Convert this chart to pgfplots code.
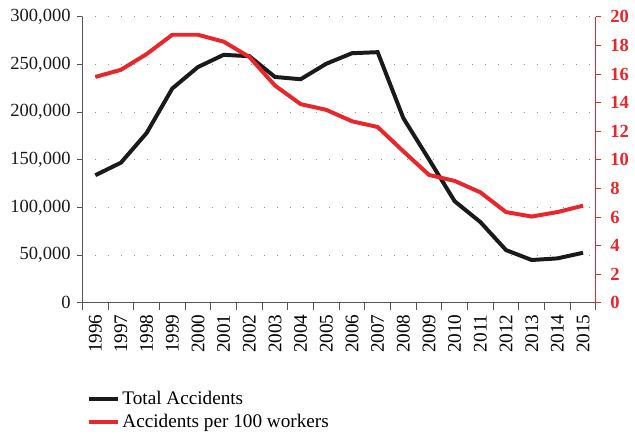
\documentclass[border=0pt]{standalone}
\usepackage{fontspec}
\setmainfont{Liberation Serif}
\usepackage{pgfplots}
\pgfplotsset{compat=1.18}
\definecolor{myred}{RGB}{232,38,43}
\definecolor{myblack}{RGB}{26,26,26}
\definecolor{axgray}{RGB}{85,85,85}
\begin{document}
\fontsize{14}{16}\selectfont
\begin{tikzpicture}
\begin{axis}[name=ax, at={(0,0)}, anchor=south west, scale only axis,
  width=387.75pt, height=216pt,
  xmin=0.5, xmax=20.5, ymin=0, ymax=300000,
  axis x line*=bottom, axis y line*=left,
  x axis line style={-, axgray, line width=0.8pt},
  y axis line style={-, axgray, line width=0.8pt},
  xtick={1,...,20},
  xticklabels={1996,1997,1998,1999,2000,2001,2002,2003,2004,2005,2006,2007,2008,2009,2010,2011,2012,2013,2014,2015},
  x tick label style={rotate=90, anchor=east, inner sep=2pt, font=\fontsize{14.5}{16}\selectfont, xshift=-2.5pt},
  major x tick style={draw=none},
  minor xtick={0.5,1.5,...,20.5},
  minor x tick style={axgray, line width=0.8pt},
  minor tick length=5pt,
  major tick length=4pt,
  tick align=outside,
  ytick={0,50000,100000,150000,200000,250000,300000},
  ytick style={axgray, line width=0.8pt},
  scaled y ticks=false,
  yticklabel style={/pgf/number format/fixed, /pgf/number format/1000 sep={,}, text=myblack},
  /pgf/number format/assume math mode=true,
  ymajorgrids,
  grid style={dash pattern=on 0.8pt off 9pt, gray!80, line width=0.8pt},
  legend style={at={(0,-0.29)}, anchor=north west, draw=none, fill=none, font=\fontsize{14.5}{16}\selectfont, row sep=1pt},
  legend cell align=left,
  legend image code/.code={\draw[#1] (0pt,0pt) -- (22pt,0pt);},
]
\addplot[myblack, line width=3pt] coordinates {
(1,133900) (2,147100) (3,178200) (4,224900) (5,247400) (6,260200) (7,258800) (8,237000) (9,234600) (10,250900)
(11,261900) (12,263000) (13,193800) (14,150500) (15,106600) (16,84800) (17,55400) (18,45000) (19,46700) (20,52600)};
\addlegendentry{Total Accidents}
\addlegendimage{myred, line width=3pt}
\addlegendentry{Accidents per 100 workers}
\end{axis}
\begin{axis}[at={(0,0)}, anchor=south west, scale only axis,
  width=387.75pt, height=216pt,
  xmin=0.5, xmax=20.5, ymin=0, ymax=20,
  axis x line=none, axis y line*=right,
  y axis line style={-, myred, line width=0.8pt},
  ytick={0,2,...,20},
  ytick style={myred, line width=0.8pt},
  major tick length=4pt, tick align=outside,
  /pgf/number format/assume math mode=true,
  yticklabel style={text=myred, font=\fontsize{14}{16}\selectfont\bfseries, xshift=2pt},
]
\addplot[myred, line width=3pt] coordinates {
(1,15.8) (2,16.3) (3,17.4) (4,18.75) (5,18.75) (6,18.27) (7,17.2) (8,15.2) (9,13.9) (10,13.5)
(11,12.7) (12,12.3) (13,10.6) (14,8.95) (15,8.53) (16,7.73) (17,6.35) (18,6.04) (19,6.35) (20,6.8)};
\end{axis}
\path[use as bounding box] (-62.25pt,-93.75pt) rectangle (414pt,228.75pt);
\end{tikzpicture}
\end{document}
